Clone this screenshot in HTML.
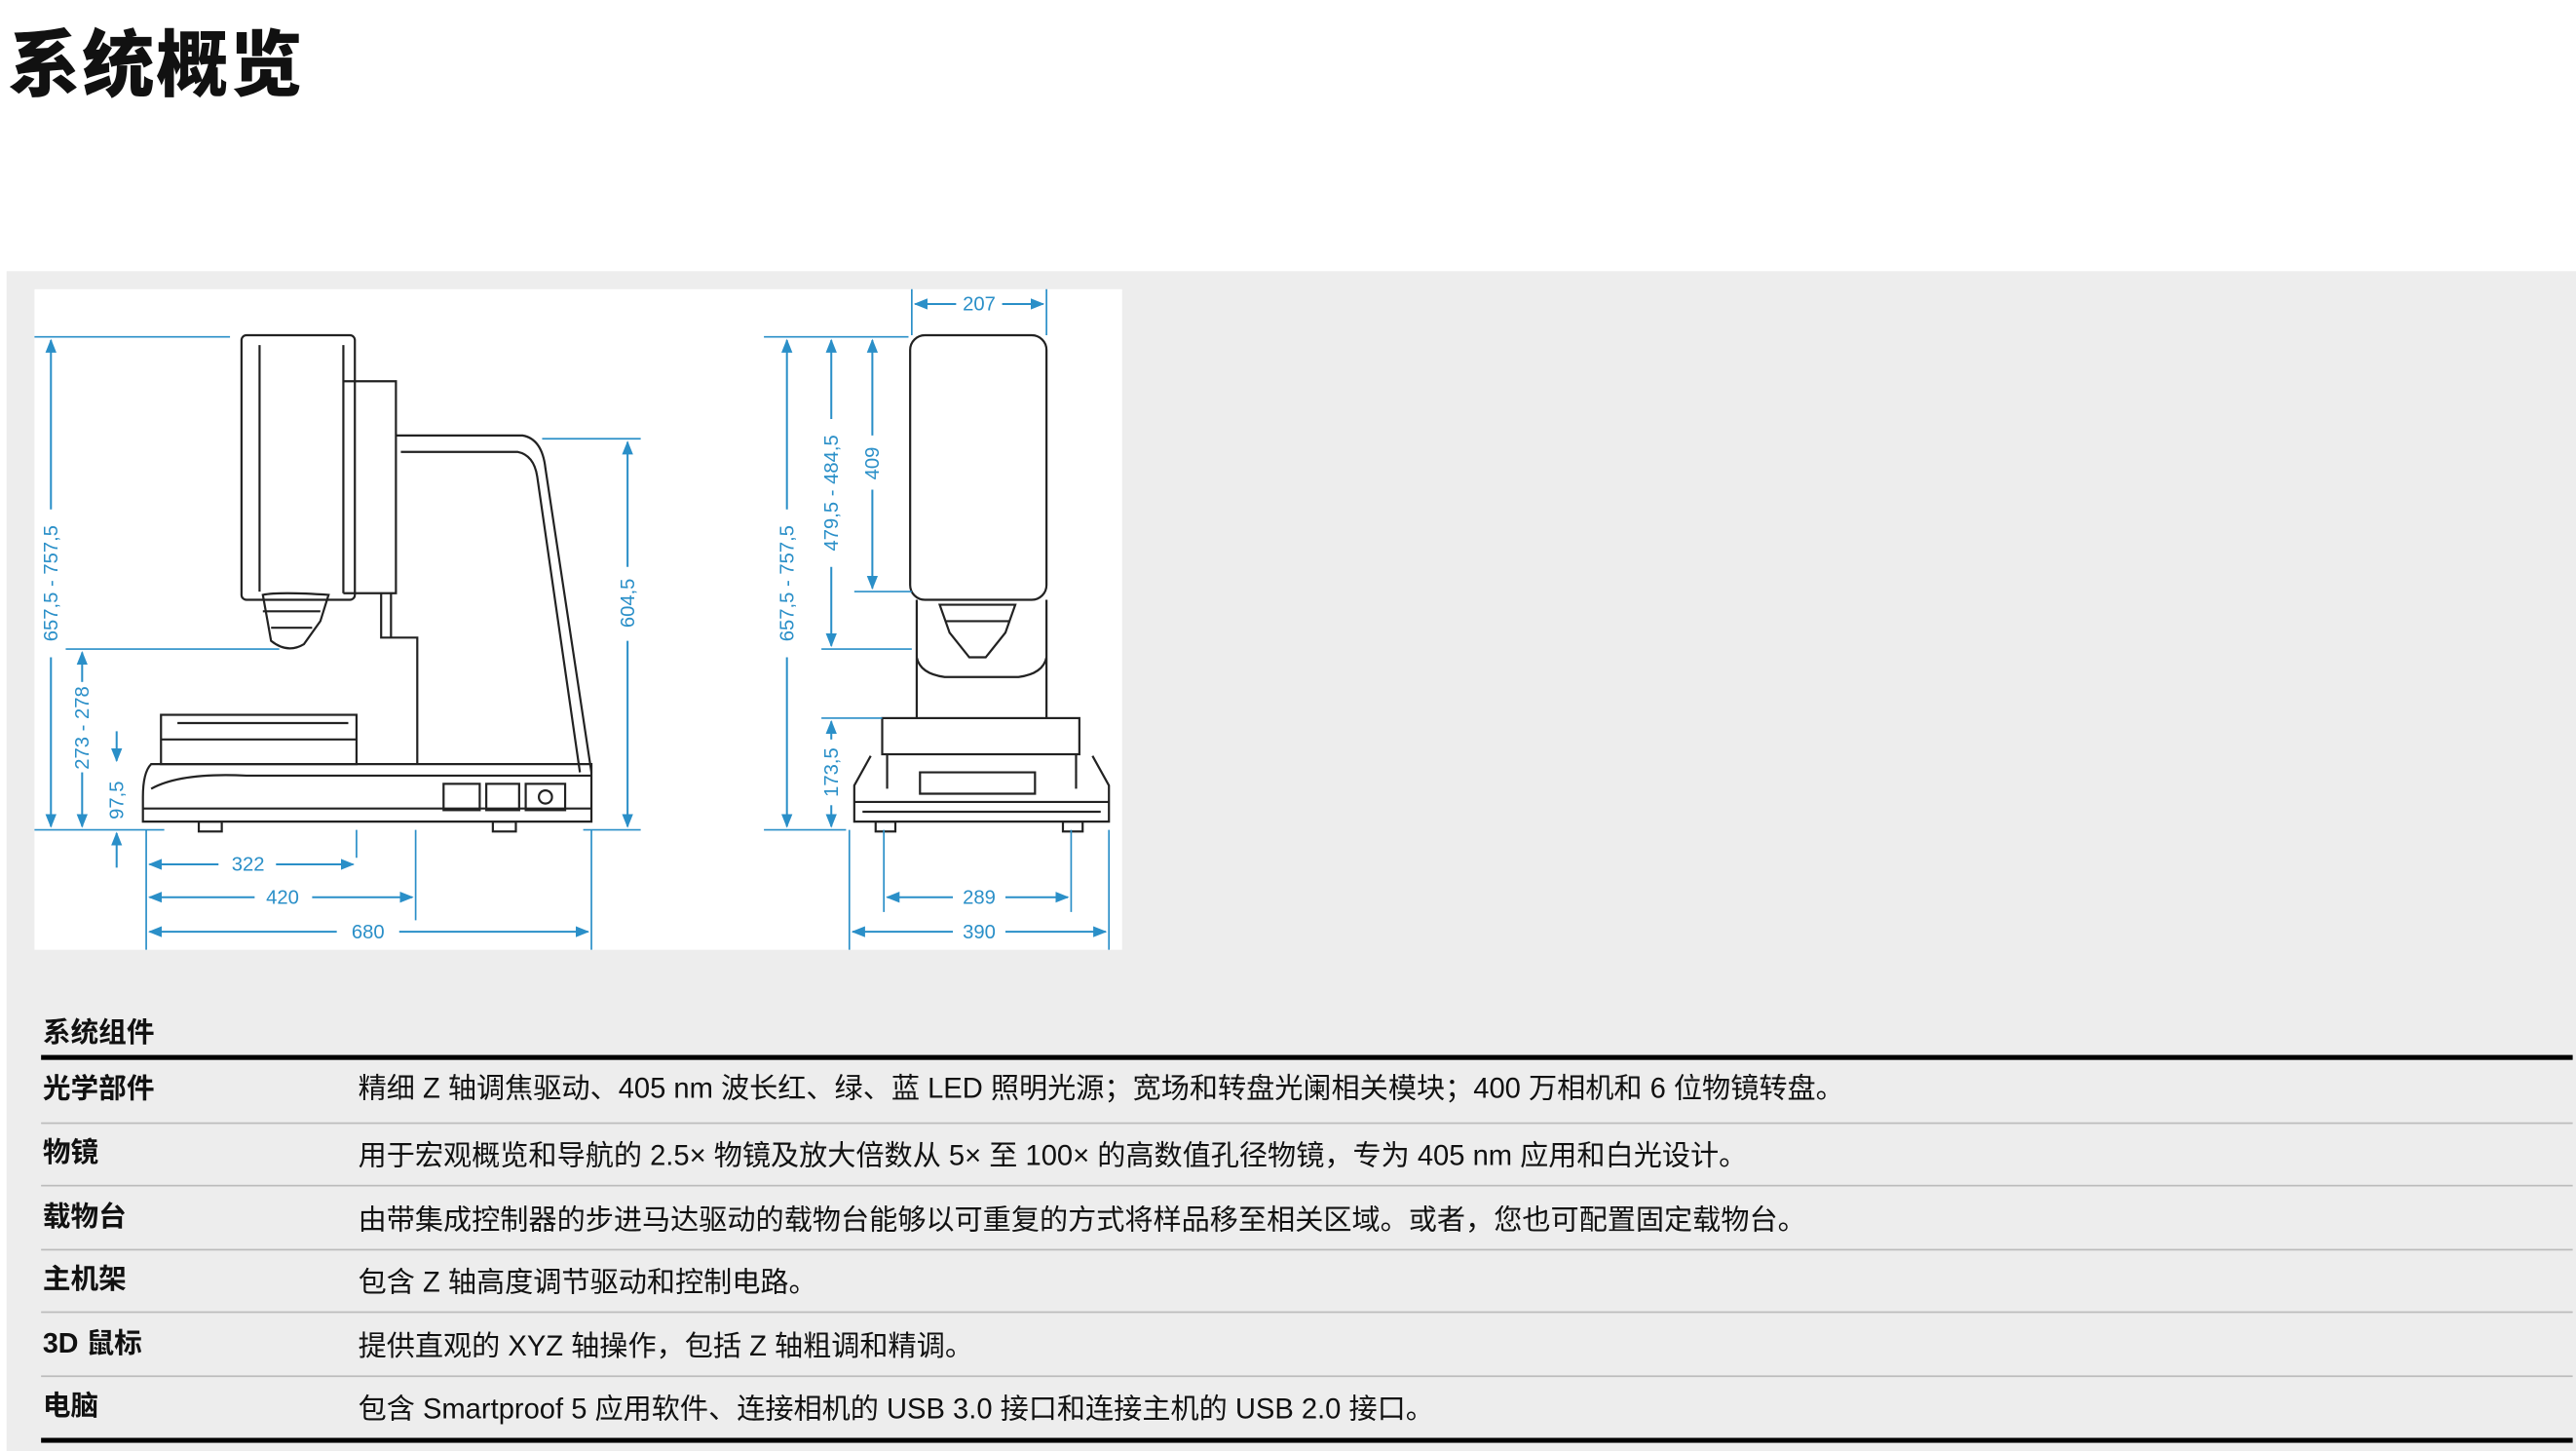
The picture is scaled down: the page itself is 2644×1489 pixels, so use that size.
<!DOCTYPE html>
<html><head><meta charset="utf-8"><style>
html,body{margin:0;padding:0;background:#fff;overflow:hidden}
#wrap{position:absolute;left:0;top:0;width:1568px;height:883px;transform:scale(1.68622,1.68630);transform-origin:0 0;font-family:"Liberation Sans","Noto Sans CJK SC",sans-serif;color:#111}
.title{position:absolute;left:5px;top:4px;font-size:44px;font-weight:900;letter-spacing:1px}
.panel{position:absolute;left:4px;top:165px;width:1564px;height:718px;background:#ededed}
.draw{position:absolute;left:21px;top:176px;width:662px;height:402px;background:#fff}
.sec{position:absolute;left:26px;top:614px;font-size:17px;font-weight:bold}
.thick{position:absolute;left:25px;width:1541px;height:3px;background:#000}
.thin{position:absolute;left:25px;width:1541px;height:1px;background:#bbb}
.lab{position:absolute;left:26px;font-size:17px;font-weight:bold}
.txt{position:absolute;left:218px;font-size:17.3px}
svg{position:absolute;left:0;top:0}
</style></head><body><div id="wrap">
<div class="title">系统概览</div>
<div class="panel"></div>
<div class="draw"></div>
<svg width="1568" height="883" viewBox="0 0 1568 883">
<g fill="none" stroke="#222" stroke-width="1.3">
<rect x="147" y="204" width="69" height="161" rx="3"/>
<line x1="158" y1="210" x2="158" y2="360"/>
<path d="M209 210 V361 M209 232 H241 V361 H209"/>
<path d="M241 265 H318 Q330 267 332 285 L360 470 M244 275 H315 Q325 277 327 290 L353 470"/>
<path d="M232 361 V388 H244 M244 388 H254 V465 M238 361 V388"/>
<path d="M160 362 Q170 360 200 362 L195 378 L185 392 Q175 398 165 390 Z M160 372 H195 M165 382 H190"/>
<rect x="98" y="435" width="119" height="30"/>
<path d="M98 450 H217 M108 440 H212"/>
<path d="M92 465 H360 V500 H87 V485 Q87 470 92 465 Z M92 480 Q110 470 150 472 H360 M87 492 H360"/>
<rect x="270" y="477" width="22" height="16"/><rect x="296" y="477" width="20" height="16"/><rect x="320" y="477" width="24" height="16"/>
<circle cx="332" cy="485" r="4"/>
<rect x="121" y="500" width="14" height="6"/><rect x="300" y="500" width="14" height="6"/>
<rect x="554" y="204" width="83" height="161" rx="9"/>
<path d="M558 365 V437 M637 365 V437 M558 400 Q560 410 575 412 H620 Q635 410 637 400"/>
<path d="M572 368 H618 L612 385 L600 400 H590 L578 385 Z M575 378 H615"/>
<rect x="537" y="437" width="120" height="22"/>
<path d="M540 459 V480 M655 459 V480 M560 470 H630 V483 H560 Z"/>
<path d="M530 460 L520 478 V500 H675 V478 L665 460 M520 488 H675 M525 494 H670"/>
<rect x="533" y="500" width="12" height="6"/><rect x="647" y="500" width="12" height="6"/>
</g>
<defs><marker id="a" viewBox="0 0 10 10" refX="9" refY="5" markerWidth="7" markerHeight="7" orient="auto-start-reverse"><path d="M0 1 L10 5 L0 9 Z" fill="#2a8fc8"/></marker></defs>
<g stroke="#2a8fc8" stroke-width="1" fill="none">
<path d="M21 205 H140 M40 395 H170 M21 505 H100 M62 505 H85 M330 267 H390 M355 505 H390 M89 505 V578 M217 505 V522 M253 505 V560 M360 505 V578"/>
<path d="M465 205 H553 M520 360 H555 M500 395 H555 M500 437 H537 M465 505 H515 M555 176 V204 M637 176 V204 M517 505 V578 M538 505 V555 M652 505 V555 M675 505 V578"/>
</g>
<g stroke="#2a8fc8" stroke-width="1.2" fill="none">
<g marker-start="url(#a)">
<line x1="31" y1="207" x2="31" y2="310"/><line x1="50" y1="397" x2="50" y2="415"/><line x1="382" y1="269" x2="382" y2="345"/>
<line x1="91" y1="526" x2="133" y2="526"/><line x1="91" y1="546" x2="155" y2="546"/><line x1="91" y1="567" x2="205" y2="567"/>
<line x1="479" y1="207" x2="479" y2="310"/><line x1="506" y1="207" x2="506" y2="255"/><line x1="531" y1="207" x2="531" y2="265"/>
<line x1="506" y1="439" x2="506" y2="450"/><line x1="557" y1="185" x2="582" y2="185"/><line x1="540" y1="546" x2="580" y2="546"/><line x1="519" y1="567" x2="580" y2="567"/>
</g>
<g marker-end="url(#a)">
<line x1="31" y1="400" x2="31" y2="503"/><line x1="50" y1="470" x2="50" y2="503"/><line x1="382" y1="390" x2="382" y2="503"/>
<line x1="168" y1="526" x2="215" y2="526"/><line x1="190" y1="546" x2="251" y2="546"/><line x1="243" y1="567" x2="358" y2="567"/>
<line x1="479" y1="400" x2="479" y2="503"/><line x1="506" y1="345" x2="506" y2="393"/><line x1="531" y1="298" x2="531" y2="358"/>
<line x1="506" y1="490" x2="506" y2="503"/><line x1="610" y1="185" x2="635" y2="185"/><line x1="612" y1="546" x2="650" y2="546"/><line x1="612" y1="567" x2="673" y2="567"/>
<line x1="71" y1="445" x2="71" y2="463"/><line x1="71" y1="528" x2="71" y2="507"/>
</g>
</g>
<g fill="#2a8fc8" font-family="Liberation Sans,sans-serif" font-size="12" text-anchor="middle">
<text transform="translate(35,355) rotate(-90)">657,5 - 757,5</text>
<text transform="translate(54,443) rotate(-90)">273 - 278</text>
<text transform="translate(75,487) rotate(-90)">97,5</text>
<text transform="translate(386,367) rotate(-90)">604,5</text>
<text x="151" y="530">322</text><text x="172" y="550">420</text><text x="224" y="571">680</text>
<text transform="translate(483,355) rotate(-90)">657,5 - 757,5</text>
<text transform="translate(510,300) rotate(-90)">479,5 - 484,5</text>
<text transform="translate(535,282) rotate(-90)">409</text>
<text transform="translate(510,470) rotate(-90)">173,5</text>
<text x="596" y="189">207</text><text x="596" y="550">289</text><text x="596" y="571">390</text>
</g>
</svg>
<div class="sec">系统组件</div>
<div class="thick" style="top:642px"></div>
<div class="lab" style="top:648px">光学部件</div><div class="txt" style="top:648px">精细 Z 轴调焦驱动、405 nm 波长红、绿、蓝 LED 照明光源；宽场和转盘光阑相关模块；400 万相机和 6 位物镜转盘。</div>
<div class="thin" style="top:683px"></div>
<div class="lab" style="top:687px">物镜</div><div class="txt" style="top:689px">用于宏观概览和导航的 2.5× 物镜及放大倍数从 5× 至 100× 的高数值孔径物镜，专为 405 nm 应用和白光设计。</div>
<div class="thin" style="top:721px"></div>
<div class="lab" style="top:726px">载物台</div><div class="txt" style="top:728px">由带集成控制器的步进马达驱动的载物台能够以可重复的方式将样品移至相关区域。或者，您也可配置固定载物台。</div>
<div class="thin" style="top:760px"></div>
<div class="lab" style="top:764px">主机架</div><div class="txt" style="top:766px">包含 Z 轴高度调节驱动和控制电路。</div>
<div class="thin" style="top:798px"></div>
<div class="lab" style="top:803px">3D 鼠标</div><div class="txt" style="top:805px">提供直观的 XYZ 轴操作，包括 Z 轴粗调和精调。</div>
<div class="thin" style="top:837px"></div>
<div class="lab" style="top:841px">电脑</div><div class="txt" style="top:843px">包含 Smartproof 5 应用软件、连接相机的 USB 3.0 接口和连接主机的 USB 2.0 接口。</div>
<div class="thick" style="top:875px"></div>
</div></body></html>
